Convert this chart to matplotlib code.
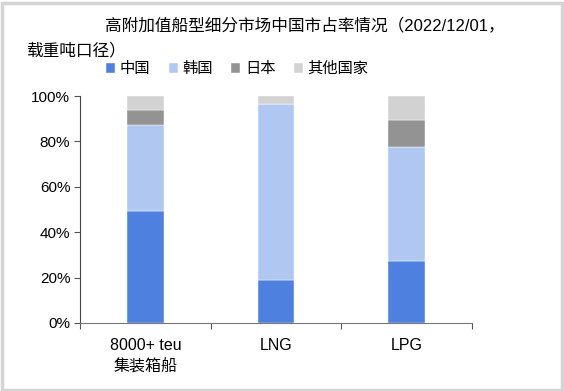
import numpy as np
import matplotlib.pyplot as plt
from matplotlib.patches import Rectangle

plt.rcParams['font.family'] = ['Liberation Sans', 'Noto Sans CJK SC', 'DejaVu Sans']

categories = ['8000+ teu\n集装箱船', 'LNG', 'LPG']
series_names = ['中国', '韩国', '日本', '其他国家']
china = [49.3, 18.8, 27.3]
korea = [38.1, 77.7, 50.1]
japan = [6.3, 0.0, 12.2]
other = [6.3, 3.5, 10.4]
colors = ['#4d80df', '#b0c8f1', '#939393', '#d2d2d2']

W, H = 564, 391
fig = plt.figure(figsize=(W / 100, H / 100), dpi=100)
ax = fig.add_axes([80 / W, 1 - 323 / H, 392 / W, 227 / H])

x = np.arange(len(categories))
bottom = np.zeros(len(categories))
for name, vals, c in zip(series_names, [china, korea, japan, other], colors):
    ax.bar(x, vals, width=0.28, bottom=bottom, color=c, label=name,
           edgecolor='white', linewidth=0.3)
    bottom += np.array(vals)

ax.set_xlim(-0.5, 2.5)
ax.set_ylim(0, 100)
ax.set_yticks(np.arange(0, 101, 20))
ax.set_yticklabels(['{}%'.format(v) for v in range(0, 101, 20)], fontsize=11)
ax.set_xticks([-0.5, 0.5, 1.5, 2.5])
ax.set_xticklabels([])
ax.set_xticks(x, minor=True)
ax.set_xticklabels(categories, minor=True, fontsize=11.5, linespacing=1.5)
ax.tick_params(axis='x', which='minor', length=0, pad=11)
ax.tick_params(axis='x', which='major', length=4, color='#555555')
ax.tick_params(axis='y', length=4, color='#555555', pad=3)
for s in ['top', 'right']:
    ax.spines[s].set_visible(False)
ax.spines['left'].set_color('#444444')
ax.spines['bottom'].set_color('#777777')

fig.text(105 / W, 1 - 30 / H, '高附加值船型细分市场中国市占率情况（2022/12/01，',
         fontsize=12, ha='left', va='baseline')
fig.text(26 / W, 1 - 55 / H, '载重吨口径）', fontsize=12, ha='left', va='baseline')

fig.legend(loc='center left', bbox_to_anchor=(106 / W, 1 - 69 / H), ncol=4,
           frameon=False, fontsize=11, handlelength=0.6, handleheight=0.6,
           handletextpad=0.3, columnspacing=1.2, borderaxespad=0, borderpad=0)

fig.patches.append(Rectangle((1.5 / W, 1.5 / H), 1 - 4 / W, 1 - 4 / H,
                             transform=fig.transFigure, fill=False,
                             edgecolor='#d4d4d4', linewidth=2.5))

fig.savefig('out.png', dpi=100)
